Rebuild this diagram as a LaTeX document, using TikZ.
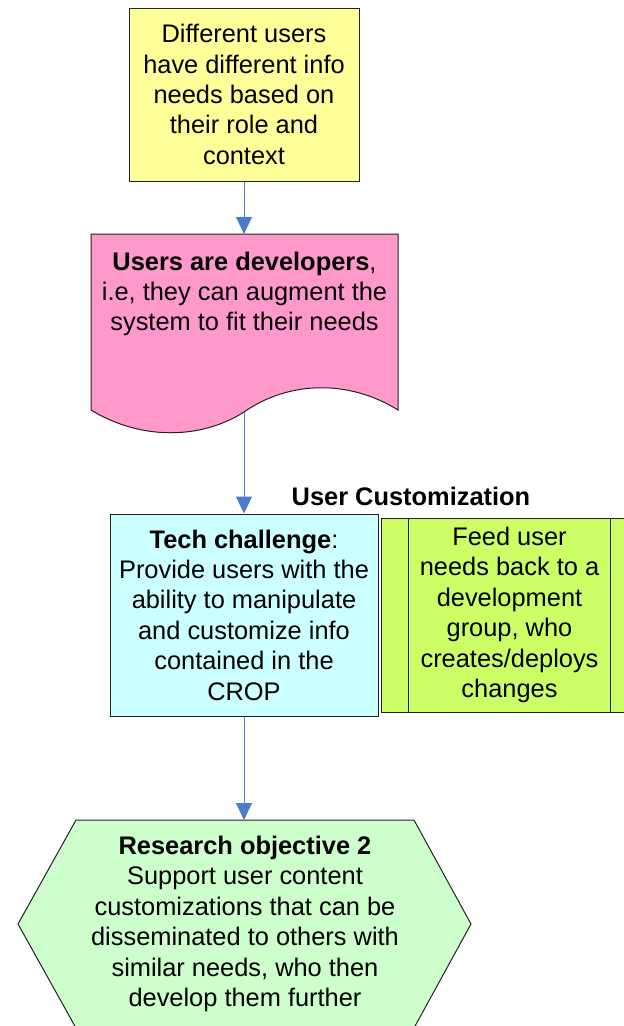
\documentclass[tikz,border=0pt]{standalone}
\usepackage{fontspec}
\setmainfont{Liberation Sans}
\usetikzlibrary{arrows.meta}
\definecolor{ylw}{HTML}{FFFF99}
\definecolor{pnk}{HTML}{FF99CC}
\definecolor{cyn}{HTML}{CCFFFF}
\definecolor{grn}{HTML}{CCFF66}
\definecolor{hexg}{HTML}{CCFFCC}
\definecolor{arr}{HTML}{4A7CC9}
\definecolor{edge}{HTML}{222222}
\begin{document}
\begin{tikzpicture}[x=1pt,y=-1pt,
  txt/.style={align=center,inner sep=0pt,font=\fontsize{25.4}{30.4}\selectfont},
  box/.style={txt,draw=edge,line width=1pt,rectangle},
  shp/.style={draw=edge,line width=1pt},
  conn/.style={draw=arr,line width=1pt,-{Triangle[length=17pt,width=16pt]}}]
\useasboundingbox (0,0) rectangle (624,1026);
\clip (0,0) rectangle (624,1026);
\fill[white] (0,0) rectangle (624,1026);

% top yellow box
\node[box,fill=ylw,minimum width=230pt,minimum height=173pt] (need) at (244,94.5)
  {Different users\\have different info\\needs based on\\their role and\\context};

% pink document
\draw[shp,fill=pnk] (91,234) -- (398,234) -- (398,410)
  .. controls (350,380) and (290,380) .. (244,412)
  .. controls (200,440) and (140,440) .. (91,410) -- cycle;
\coordinate (docTop) at (244,234);
\coordinate (docBot) at (244,412);
\node[txt] (dev) at (244.5,294)
  {\textbf{Users are developers},\\i.e, they can augment the\\system to fit their needs};

% cyan box
\node[box,fill=cyn,minimum width=268pt,minimum height=202pt] (tech) at (244,615)
  {\textbf{Tech challenge}:\\Provide users with the\\ability to manipulate\\and customize info\\contained in the\\CROP};

% label
\node[txt] (uc) at (411,496) {\textbf{User Customization}};

% green predefined process
\node[box,fill=grn,minimum width=257pt,minimum height=194pt] (feed) at (509.5,615)
  {Feed user\\needs back to a\\development\\group, who\\creates/deploys\\changes};
\draw[shp] ([xshift=28pt]feed.north west) -- ([xshift=28pt]feed.south west);
\draw[shp] ([xshift=-28pt]feed.north east) -- ([xshift=-28pt]feed.south east);

% hexagon
\draw[shp,fill=hexg] (76,820) -- (414,820) -- (471,924) -- (414,1028) -- (76,1028) -- (18,924) -- cycle;
\coordinate (hexTop) at (244,820);
\node[txt] (obj) at (245,924)
  {\textbf{Research objective 2}\\Support user content\\customizations that can be\\disseminated to others with\\similar needs, who then\\develop them further};

% connectors
\draw[conn] (need.south) -- (docTop);
\draw[conn] (docBot) -- (tech.north);
\draw[conn] (tech.south) -- (hexTop);
\end{tikzpicture}
\end{document}
